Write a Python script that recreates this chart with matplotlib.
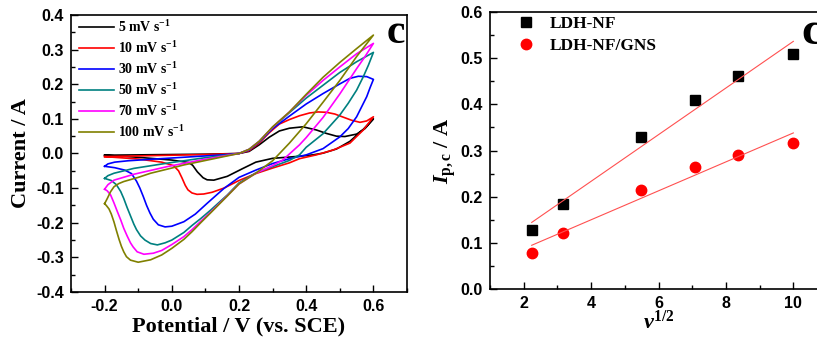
import matplotlib
matplotlib.use('Agg')
import matplotlib.pyplot as plt
import numpy as np
from matplotlib.ticker import MultipleLocator, FormatStrFormatter

plt.rcParams['axes.unicode_minus'] = False
plt.rcParams['mathtext.fontset'] = 'custom'
plt.rcParams['mathtext.rm'] = 'Liberation Serif:bold'
plt.rcParams['mathtext.it'] = 'Liberation Serif:italic:bold'
plt.rcParams['mathtext.bf'] = 'Liberation Serif:bold'

# CV loops: (potential V, current A)
# anodic = forward scan -0.2 -> 0.6, cathodic = back scan 0.6 -> -0.2
cv5_anodic = [(-0.2, -0.005), (-0.1, -0.004), (0.0, -0.003), (0.1, -0.002), (0.2, 0.0), (0.23, 0.006),
              (0.26, 0.025), (0.29, 0.047), (0.32, 0.065), (0.35, 0.073), (0.39, 0.077), (0.43, 0.068),
              (0.46, 0.058), (0.49, 0.05), (0.515, 0.049), (0.55, 0.056), (0.575, 0.072), (0.6, 0.1)]
cv5_cathodic = [(0.6, 0.1), (0.57, 0.07), (0.53, 0.035), (0.49, 0.013), (0.45, 0.001), (0.42, -0.004),
                (0.38, -0.008), (0.3, -0.014), (0.25, -0.025), (0.21, -0.044), (0.165, -0.066), (0.125, -0.077),
                (0.105, -0.076), (0.093, -0.07), (0.076, -0.053), (0.062, -0.034), (0.05, -0.026), (0.0, -0.019),
                (-0.1, -0.011), (-0.2, -0.005)]

cv10_anodic = [(-0.2, -0.009), (-0.1, -0.007), (0.0, -0.005), (0.1, -0.003), (0.2, 0.0), (0.23, 0.008),
               (0.26, 0.03), (0.29, 0.06), (0.32, 0.085), (0.35, 0.098), (0.38, 0.109), (0.41, 0.117),
               (0.435, 0.12), (0.46, 0.119), (0.485, 0.114), (0.51, 0.105), (0.535, 0.096), (0.56, 0.09),
               (0.58, 0.094), (0.6, 0.106)]
cv10_cathodic = [(0.6, 0.106), (0.57, 0.068), (0.53, 0.03), (0.48, 0.01), (0.43, -0.004), (0.38, -0.015),
                 (0.35, -0.027), (0.3, -0.042), (0.25, -0.058), (0.2, -0.078), (0.155, -0.1), (0.12, -0.112),
                 (0.095, -0.117), (0.075, -0.118), (0.06, -0.114), (0.048, -0.105), (0.04, -0.092), (0.03, -0.07),
                 (0.02, -0.05), (0.005, -0.035), (-0.03, -0.025), (-0.1, -0.016), (-0.2, -0.009)]

cv30_anodic = [(-0.2, -0.037), (-0.19, -0.03), (-0.17, -0.025), (-0.13, -0.021), (-0.05, -0.016), (0.05, -0.01),
               (0.15, -0.004), (0.2, 0.0), (0.23, 0.01), (0.26, 0.033), (0.3, 0.072), (0.35, 0.108), (0.4, 0.143),
               (0.45, 0.173), (0.5, 0.201), (0.53, 0.217), (0.555, 0.223), (0.58, 0.222), (0.6, 0.214)]
cv30_cathodic = [(0.6, 0.214), (0.59, 0.19), (0.58, 0.164), (0.55, 0.106), (0.525, 0.072), (0.5, 0.048),
                 (0.45, 0.014), (0.4, -0.004), (0.35, -0.015), (0.3, -0.029), (0.25, -0.048), (0.2, -0.069),
                 (0.155, -0.101), (0.105, -0.144), (0.07, -0.175), (0.036, -0.197), (0.0, -0.21), (-0.02, -0.212),
                 (-0.04, -0.206), (-0.055, -0.19), (-0.065, -0.172), (-0.075, -0.15), (-0.085, -0.124),
                 (-0.095, -0.1), (-0.105, -0.08), (-0.12, -0.058), (-0.14, -0.048), (-0.17, -0.041), (-0.2, -0.037)]

cv50_anodic = [(-0.2, -0.072), (-0.19, -0.064), (-0.172, -0.057), (-0.113, -0.043), (-0.014, -0.028),
               (0.086, -0.014), (0.15, -0.006), (0.2, 0.0), (0.23, 0.012), (0.26, 0.035), (0.3, 0.075),
               (0.35, 0.118), (0.4, 0.16), (0.45, 0.197), (0.5, 0.234), (0.55, 0.265), (0.6, 0.292)]
cv50_cathodic = [(0.6, 0.292), (0.585, 0.255), (0.57, 0.222), (0.55, 0.183), (0.525, 0.145), (0.5, 0.111),
                 (0.45, 0.057), (0.4, 0.018), (0.38, -0.004), (0.35, -0.02), (0.3, -0.038), (0.25, -0.056),
                 (0.2, -0.085), (0.165, -0.12), (0.115, -0.164), (0.086, -0.188), (0.06, -0.208), (0.036, -0.228),
                 (0.0, -0.25), (-0.02, -0.258), (-0.043, -0.264), (-0.063, -0.26), (-0.08, -0.25), (-0.093, -0.238),
                 (-0.105, -0.22), (-0.113, -0.204), (-0.123, -0.18), (-0.133, -0.156), (-0.143, -0.13),
                 (-0.152, -0.11), (-0.165, -0.09), (-0.18, -0.078), (-0.2, -0.072)]

cv70_anodic = [(-0.2, -0.103), (-0.19, -0.09), (-0.172, -0.077), (-0.113, -0.06), (-0.014, -0.038),
               (0.086, -0.019), (0.15, -0.008), (0.2, 0.0), (0.23, 0.012), (0.26, 0.035), (0.3, 0.076),
               (0.35, 0.12), (0.4, 0.168), (0.45, 0.211), (0.5, 0.25), (0.55, 0.288), (0.6, 0.318)]
cv70_cathodic = [(0.6, 0.318), (0.575, 0.28), (0.55, 0.245), (0.5, 0.172), (0.45, 0.104), (0.4, 0.046),
                 (0.38, 0.025), (0.33, -0.019), (0.3, -0.035), (0.25, -0.057), (0.2, -0.088), (0.165, -0.122),
                 (0.115, -0.17), (0.086, -0.196), (0.06, -0.22), (0.036, -0.24), (0.0, -0.263), (-0.03, -0.28),
                 (-0.055, -0.288), (-0.083, -0.291), (-0.103, -0.284), (-0.115, -0.27), (-0.123, -0.258),
                 (-0.133, -0.238), (-0.143, -0.216), (-0.152, -0.192), (-0.162, -0.168), (-0.172, -0.143),
                 (-0.182, -0.12), (-0.192, -0.108), (-0.2, -0.103)]

cv100_anodic = [(-0.2, -0.145), (-0.192, -0.13), (-0.182, -0.11), (-0.172, -0.096), (-0.158, -0.087),
                (-0.143, -0.081), (-0.1, -0.069), (-0.063, -0.057), (0.0, -0.042), (0.036, -0.033),
                (0.086, -0.023), (0.15, -0.01), (0.2, 0.0), (0.23, 0.012), (0.26, 0.035), (0.3, 0.077),
                (0.35, 0.12), (0.4, 0.171), (0.45, 0.22), (0.5, 0.263), (0.55, 0.303), (0.6, 0.342)]
cv100_cathodic = [(0.6, 0.342), (0.55, 0.28), (0.5, 0.211), (0.45, 0.148), (0.4, 0.086), (0.35, 0.03),
                  (0.3, -0.021), (0.25, -0.057), (0.2, -0.088), (0.165, -0.123), (0.115, -0.172), (0.086, -0.2),
                  (0.06, -0.226), (0.036, -0.248), (0.0, -0.274), (-0.03, -0.293), (-0.063, -0.307),
                  (-0.1, -0.314), (-0.123, -0.308), (-0.135, -0.298), (-0.143, -0.284), (-0.15, -0.268),
                  (-0.157, -0.248), (-0.165, -0.222), (-0.172, -0.198), (-0.18, -0.175), (-0.187, -0.16),
                  (-0.195, -0.15), (-0.2, -0.145)]

cv_labels = ['5 mV s$^{-1}$', '10 mV s$^{-1}$', '30 mV s$^{-1}$',
             '50 mV s$^{-1}$', '70 mV s$^{-1}$', '100 mV s$^{-1}$']
cv_colors = ['black', '#FF0000', '#0000FF', '#008080', '#FF00FF', '#808000']
cv_loops = [(cv5_anodic, cv5_cathodic), (cv10_anodic, cv10_cathodic), (cv30_anodic, cv30_cathodic),
            (cv50_anodic, cv50_cathodic), (cv70_anodic, cv70_cathodic), (cv100_anodic, cv100_cathodic)]

# right panel: peak current vs sqrt(scan rate)
sqrt_rate = [2.236, 3.162, 5.477, 7.071, 8.367, 10.0]
ipc_ldh = [0.128, 0.185, 0.329, 0.409, 0.461, 0.510]
ipc_ldh_gns = [0.078, 0.122, 0.214, 0.265, 0.291, 0.316]

tick_font = {'family': 'Liberation Sans', 'weight': 'bold', 'size': 11.5}
label_font = {'family': 'Liberation Serif', 'weight': 'bold', 'size': 16}

fig = plt.figure(figsize=(8.17, 3.43), dpi=100)
ax1 = fig.add_axes([0.0869, 0.1487, 0.4113, 0.8076])
ax2 = fig.add_axes([0.5998, 0.1574, 0.4125, 0.8076])

#left panel - CV curves
for (an, ca), lab, col in zip(cv_loops, cv_labels, cv_colors):
    pts = np.array(an + ca[1:])
    ax1.plot(pts[:, 0], pts[:, 1], color=col, lw=1.2, label=lab)

ax1.set_xlim(-0.3, 0.7)
ax1.set_ylim(-0.4, 0.4)
ax1.set_xticks([-0.2, 0.0, 0.2, 0.4, 0.6])
ax1.xaxis.set_minor_locator(MultipleLocator(0.1))
ax1.yaxis.set_major_locator(MultipleLocator(0.1))
ax1.yaxis.set_minor_locator(MultipleLocator(0.05))
ax1.xaxis.set_major_formatter(FormatStrFormatter('%.1f'))
ax1.yaxis.set_major_formatter(FormatStrFormatter('%.1f'))
ax1.set_xlabel('Potential / V (vs. SCE)', fontdict=label_font, labelpad=2)
ax1.set_ylabel('Current / A', fontdict=label_font, labelpad=4)
ax1.text(0.967, 0.935, 'c', transform=ax1.transAxes, ha='center', va='center',
         family='Liberation Serif', weight='bold', fontsize=30)
ax1.legend(loc='upper left', bbox_to_anchor=(0.025, 0.985), frameon=False, borderaxespad=0, borderpad=0,
           handlelength=2.5, handletextpad=0.3, labelspacing=0.36,
           prop={'family': 'Liberation Serif', 'weight': 'bold', 'size': 10})

#right panel - Ip,c vs v^1/2 with linear fits
xs = np.array(sqrt_rate)
ax2.plot(sqrt_rate, ipc_ldh, 's', color='black', ms=6.5, label='LDH-NF')
ax2.plot(sqrt_rate, ipc_ldh_gns, 'o', color='#FF0000', ms=7.5, label='LDH-NF/GNS')
for ys in (ipc_ldh, ipc_ldh_gns):
    k, b = np.polyfit(xs, ys, 1)
    ax2.plot([xs[0], xs[-1]], [k*xs[0] + b, k*xs[-1] + b], color='#FF5050', lw=0.8)

ax2.set_xlim(1, 11)
ax2.set_ylim(0, 0.6)
ax2.xaxis.set_major_locator(MultipleLocator(2))
ax2.xaxis.set_minor_locator(MultipleLocator(1))
ax2.yaxis.set_major_locator(MultipleLocator(0.1))
ax2.yaxis.set_minor_locator(MultipleLocator(0.05))
ax2.yaxis.set_major_formatter(FormatStrFormatter('%.1f'))
ax2.set_xlabel(r'$\nu^{1/2}$', fontdict=label_font, labelpad=0)
ax2.set_ylabel(r'$I_{\mathrm{p,c}}$ / A', fontdict={'family': 'Liberation Serif', 'weight': 'bold', 'size': 16},
               labelpad=2)
ax2.text(0.955, 0.925, 'c', transform=ax2.transAxes, ha='center', va='center',
         family='Liberation Serif', weight='bold', fontsize=34)
ax2.legend(loc='upper left', bbox_to_anchor=(0.08, 0.985), frameon=False, borderaxespad=0, borderpad=0,
           numpoints=1, handlelength=1.0, handletextpad=0.9, labelspacing=0.3,
           prop={'family': 'Liberation Serif', 'weight': 'bold', 'size': 12.5})

for ax in (ax1, ax2):
    ax.tick_params(which='both', direction='in', top=False, right=False, width=1.0, pad=5)
    ax.tick_params(which='major', length=5)
    ax.tick_params(which='minor', length=3)
    for s in ax.spines.values():
        s.set_linewidth(1.2)
    for t in ax.get_xticklabels() + ax.get_yticklabels():
        t.set_fontproperties(matplotlib.font_manager.FontProperties(**tick_font))

fig.savefig('out.png', dpi=100)
